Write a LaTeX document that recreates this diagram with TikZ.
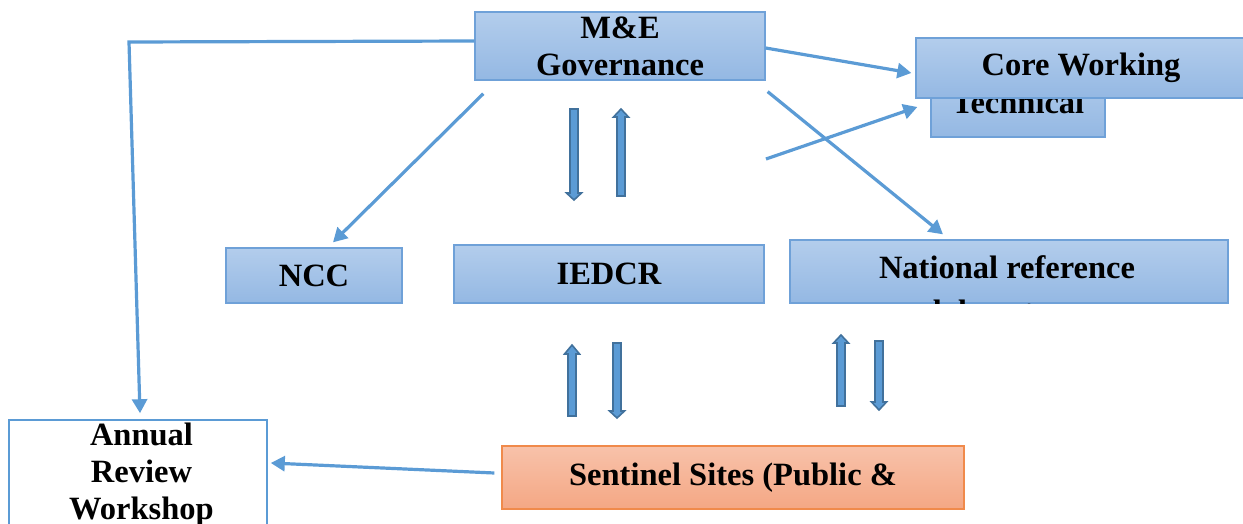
\documentclass[tikz,border=0pt]{standalone}
\usepackage{fontspec}
\setmainfont{Liberation Serif}
\usetikzlibrary{arrows.meta}

\definecolor{linkblue}{HTML}{5B9BD5}
\definecolor{boxedge}{HTML}{6FA1D8}
\definecolor{boxtop}{HTML}{B3CDEC}
\definecolor{boxbottom}{HTML}{94B8E3}
\definecolor{arrowedge}{HTML}{41719C}
\definecolor{siteedge}{HTML}{F08A4B}
\definecolor{sitetop}{HTML}{F8C2AA}
\definecolor{sitebottom}{HTML}{F4A784}

\tikzset{every picture/.style={line width=0.75pt},
  boxtext/.style={font=\bfseries\fontsize{32.5}{37}\selectfont, align=center, inner sep=0pt},
  bluebox/.style={boxtext, draw=boxedge, line width=1.3pt, top color=boxtop, bottom color=boxbottom},
  sitebox/.style={boxtext, draw=siteedge, line width=1.3pt, top color=sitetop, bottom color=sitebottom},
  reviewbox/.style={boxtext, draw=linkblue, line width=1.6pt, fill=white},
  link/.style={draw=linkblue, line width=3.2pt, -{Triangle[length=14pt,width=15pt]}},
  blockarrow/.style={draw=arrowedge, line width=1.6pt, fill=linkblue}
}

% block arrow: x, tail y, head base y, tip y
\newcommand{\blockarrow}[4]{%
  \draw[blockarrow] (#1-4,#2) -- (#1-4,#3) -- (#1-7.5,#3) -- (#1,#4) -- (#1+7.5,#3) -- (#1+4,#3) -- (#1+4,#2) -- cycle ;}

\begin{document}
\begin{tikzpicture}[x=1pt,y=1pt,yscale=-1,xscale=1]
	\clip (0,0) rectangle (1243,524);
	
	%Shape: Rectangle [M&E Governance]
	\node[bluebox, minimum width=290pt, minimum height=68pt] (me) at (620,46) {M\&E\\Governance};
	%Shape: Rectangle [Technical, behind Core Working]
	\node[bluebox, minimum width=174pt, minimum height=69pt] (tech) at (1018,102.5) {Technical};
	%Shape: Rectangle [Core Working]
	\node[bluebox, minimum width=330pt, minimum height=60pt] (cw) at (1081,68) {Core Working};
	%Shape: Rectangle [NCC]
	\node[bluebox, minimum width=176pt, minimum height=55pt] (ncc) at (314,275.5) {NCC};
	%Shape: Rectangle [IEDCR]
	\node[bluebox, minimum width=310pt, minimum height=58pt] (iedcr) at (609,274) {IEDCR};
	%Shape: Rectangle [National reference]
	\node[bluebox, minimum width=438pt, minimum height=63pt] (nat) at (1009,271.5) {};
	\begin{scope}
		\clip (nat.south west) rectangle (nat.north east);
		% Text Node
		\node[boxtext] (natlabel) at (1007,292.5) {National reference\\[7pt]laboratory};
	\end{scope}
	%Shape: Rectangle [Sentinel Sites]
	\node[sitebox, minimum width=462pt, minimum height=63pt] (sentinel) at (733,477.5) {Sentinel Sites (Public \&};
	%Shape: Rectangle [Annual Review Workshop]
	\node[reviewbox, minimum width=258pt, minimum height=110pt] (annual) at (138,475) {\hspace*{7pt}Annual\\\hspace*{7pt}Review\\\hspace*{7pt}Workshop};
	
	\coordinate (bend) at (129,42);
	\coordinate (techstart) at (766,159);
	
	%Straight Lines
	\draw[link] ([yshift=-5]me.west) -- (bend) -- ([xshift=2,yshift=-6]annual.north);
	\draw[link] ([yshift=2]me.east) -- ([xshift=-4,yshift=5]cw.west);
	\draw[link] (techstart) -- ([xshift=-13,yshift=4.5]tech.west);
	\draw[link] ([xshift=9,yshift=13]me.south west) -- ([xshift=19,yshift=-5]ncc.north);
	\draw[link] ([xshift=2,yshift=11]me.south east) -- ([xshift=-66,yshift=-5]nat.north);
	\draw[link] ([xshift=-7,yshift=-4.5]sentinel.west) -- ([xshift=3,yshift=-12]annual.east);
	
	%Shape: Block Arrows
	\blockarrow{574}{109}{193}{200}
	\blockarrow{621}{196}{117}{109}
	\blockarrow{572}{416}{354}{345}
	\blockarrow{617}{343}{411}{418}
	\blockarrow{841}{406}{343}{335}
	\blockarrow{879}{341}{402}{410}
	
\end{tikzpicture}
\end{document}
